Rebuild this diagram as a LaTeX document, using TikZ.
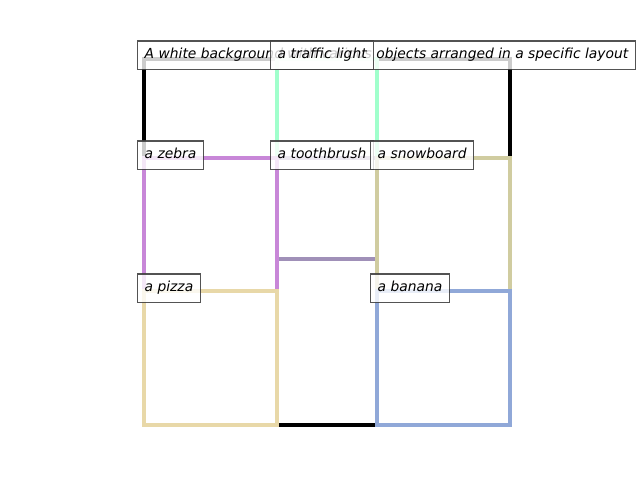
\documentclass[tikz,border=0pt]{standalone}
\usepackage{fontspec}
\setmainfont{DejaVu Sans}
\definecolor{bgline}{HTML}{000000}
\definecolor{lightcol}{HTML}{A0FFCC}
\definecolor{zebracol}{HTML}{C887D8}
\definecolor{brushcol}{HTML}{A090B8}
\definecolor{boardcol}{HTML}{D0CCA0}
\definecolor{pizzacol}{HTML}{E8D8A8}
\definecolor{bananacol}{HTML}{90A8D8}
\begin{document}
\begin{tikzpicture}[
        x=0.01in, y=-0.01in,
        region/.style={line width=2.2pt},
        lbl/.style={anchor=north west, draw=black!75, draw opacity=0.9,
          fill=white, fill opacity=0.8, text opacity=1, line width=1pt,
          inner xsep=0.07in, inner ysep=0pt, minimum height=0.28in,
          text height=7.6pt, text depth=2.4pt, font=\itshape\fontsize{10pt}{12pt}\selectfont}
      ]
        \useasboundingbox (0,0) rectangle (640,480);

% Regions
        \draw[region, bgline] (144,59) rectangle (510,425);
        \draw[region, lightcol] (277,59) rectangle (377,158);
        \draw[region, brushcol] (277,158) rectangle (377,259);
        \draw[region, zebracol] (144,158) rectangle (277,291);
        \draw[region, boardcol] (377,158) rectangle (510,291);
        \draw[region, pizzacol] (144,291) rectangle (277,425);
        \draw[region, bananacol] (377,291) rectangle (510,425);

% Labels
        \node[lbl] (background) at (137,40.5)
          {A white background with various objects arranged in a specific layout};
        \node[lbl] (light) at (270,40.5) {a traffic light};
        \node[lbl] (zebra) at (137,140.5) {a zebra};
        \node[lbl] (brush) at (270,140.5) {a toothbrush};
        \node[lbl] (board) at (370,140.5) {a snowboard};
        \node[lbl] (pizza) at (137,273.5) {a pizza};
        \node[lbl] (banana) at (370,273.5) {a banana};

      \end{tikzpicture}
\end{document}
